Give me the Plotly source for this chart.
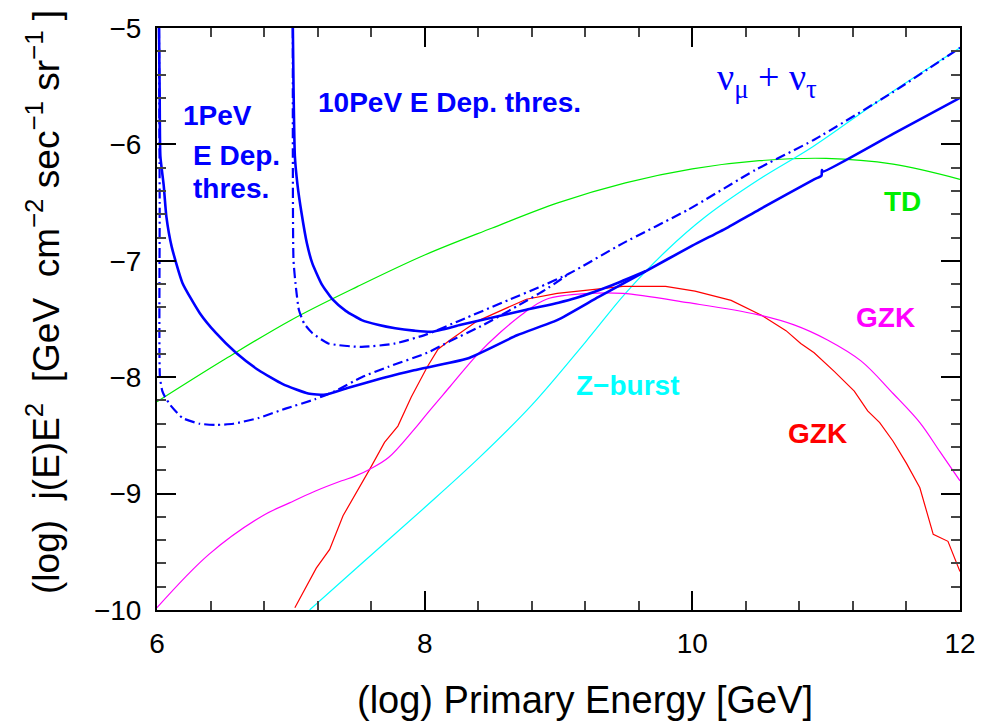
import plotly.graph_objects as go

# log10(E/GeV) and log10(j(E)E^2) sample points for each model / sensitivity curve

# TD (topological defects)
td_x = [6.0, 6.5, 7.0, 7.5, 8.0, 8.5, 9.0, 9.5, 10.0, 10.5, 11.0, 11.5, 12.0]
td_y = [-8.21, -7.85, -7.51, -7.22, -6.95, -6.72, -6.50, -6.33, -6.21, -6.14, -6.12, -6.17, -6.30]

# Z-burst
zb_x = [7.14, 7.5, 8.0, 8.4, 8.8, 9.2, 9.5, 9.8, 10.1, 10.5, 10.9, 11.4, 12.0]
zb_y = [-10.0, -9.63, -9.12, -8.70, -8.24, -7.70, -7.28, -6.92, -6.62, -6.30, -6.02, -5.62, -5.17]

# GZK (red)
gzk1_x = [7.03, 7.19, 7.29, 7.39, 7.59, 7.70, 7.80, 7.90, 8.02, 8.10, 8.19, 8.39, 8.76,
          8.99, 9.48, 9.80, 10.02, 10.29, 10.52, 10.70, 10.81, 10.91, 11.06, 11.21, 11.31,
          11.40, 11.50, 11.60, 11.70, 11.80, 11.91, 12.0]
gzk1_y = [-9.98, -9.64, -9.48, -9.19, -8.79, -8.56, -8.42, -8.17, -7.91, -7.76, -7.68, -7.52,
          -7.33, -7.28, -7.22, -7.22, -7.26, -7.34, -7.47, -7.60, -7.71, -7.79, -7.95, -8.12,
          -8.29, -8.39, -8.55, -8.74, -8.95, -9.35, -9.41, -9.67]

# GZK (magenta)
gzk2_x = [6.0, 6.39, 6.79, 6.99, 7.18, 7.38, 7.48, 7.59, 7.73, 7.92, 8.02, 8.19, 8.39, 8.57,
          8.74, 8.91, 9.23, 9.48, 9.97, 10.48, 10.76, 11.01, 11.26, 11.50, 11.70, 11.85, 12.0]
gzk2_y = [-9.98, -9.52, -9.19, -9.08, -8.98, -8.89, -8.85, -8.79, -8.69, -8.45, -8.31, -8.08,
          -7.81, -7.61, -7.45, -7.33, -7.28, -7.28, -7.36, -7.46, -7.55, -7.68, -7.86, -8.14,
          -8.39, -8.64, -8.89]

# 1 PeV energy-deposit threshold, solid
pev1_sol_x = [6.015, 6.02, 6.025, 6.05, 6.07, 6.11, 6.19, 6.32, 6.44, 6.59, 6.76, 6.94, 7.13,
              7.26, 7.43, 7.68, 7.92, 8.32, 8.69, 8.99, 9.30, 9.65, 10.0, 10.27, 10.5, 10.91,
              10.965, 10.968, 10.975, 11.5, 12.0]
pev1_sol_y = [-5.0, -5.6, -6.1, -6.35, -6.62, -6.88, -7.19, -7.45, -7.62, -7.79, -7.94, -8.06,
              -8.14, -8.15, -8.09, -8.01, -7.94, -7.84, -7.64, -7.51, -7.31, -7.09, -6.87, -6.71,
              -6.56, -6.30, -6.27, -6.22, -6.235, -5.91, -5.60]

# 1 PeV energy-deposit threshold, dash-dot
pev1_dd_x = [6.015, 6.02, 6.022, 6.04, 6.06, 6.10, 6.19, 6.32, 6.44, 6.57, 6.76, 6.96, 7.18,
             7.33, 7.53, 7.73, 8.02, 8.19, 8.44, 8.69, 8.90, 9.08]
pev1_dd_y = [-5.0, -6.5, -8.0, -8.12, -8.17, -8.24, -8.35, -8.40, -8.41, -8.40, -8.35, -8.27,
             -8.19, -8.12, -8.00, -7.91, -7.79, -7.69, -7.55, -7.39, -7.25, -7.11]

# 10 PeV energy-deposit threshold, solid
pev10_sol_x = [7.015, 7.02, 7.03, 7.05, 7.08, 7.12, 7.16, 7.23, 7.31, 7.41, 7.53, 7.65, 7.78,
               7.92, 8.05, 8.27, 8.50, 8.76, 9.00, 9.13, 9.40, 9.65]
pev10_sol_y = [-5.0, -5.5, -6.1, -6.35, -6.59, -6.85, -7.02, -7.20, -7.33, -7.43, -7.51, -7.55,
               -7.58, -7.60, -7.61, -7.55, -7.49, -7.42, -7.36, -7.32, -7.21, -7.09]

# 10 PeV energy-deposit threshold, dash-dot
pev10_dd_x = [7.015, 7.015, 7.02, 7.04, 7.06, 7.10, 7.16, 7.28, 7.53, 7.78, 8.02, 8.27, 8.64,
              8.85, 9.08, 9.48, 9.97, 10.47, 10.91, 11.5, 12.0]
pev10_dd_y = [-5.0, -6.1, -7.0, -7.25, -7.42, -7.54, -7.62, -7.71, -7.74, -7.71, -7.63, -7.51,
              -7.33, -7.23, -7.11, -6.85, -6.56, -6.22, -5.96, -5.55, -5.17]

BLUE = "#0000FF"
FONT = "Liberation Sans"

# plot-area placement in pixels (used to place free text in pixel terms)
W, H = 988, 728
L, R, T, B = 157, 21, 28, 118
PW, PH = W - L - R, H - T - B

fig = go.Figure()


def add_line(x, y, color, width, dash="solid", shape="linear", smoothing=1.0):
    line = dict(color=color, width=width, dash=dash, shape=shape)
    if shape == "spline":
        line["smoothing"] = smoothing
    fig.add_trace(go.Scatter(x=x, y=y, mode="lines", line=line,
                             showlegend=False, hoverinfo="skip"))


add_line(td_x, td_y, "#00EE00", 1.2, shape="spline")
add_line(zb_x, zb_y, "#00FFFF", 1.2, shape="spline")
add_line(gzk1_x, gzk1_y, "#FF0000", 1.2)
add_line(gzk2_x, gzk2_y, "#FF00FF", 1.2, shape="spline", smoothing=1.0)
add_line(pev1_dd_x, pev1_dd_y, BLUE, 2.2, "10px,4px,2px,4px", shape="spline", smoothing=0.5)
add_line(pev10_dd_x, pev10_dd_y, BLUE, 2.2, "10px,4px,2px,4px", shape="spline", smoothing=0.5)
add_line(pev1_sol_x, pev1_sol_y, BLUE, 2.6, shape="spline", smoothing=0.5)
add_line(pev10_sol_x, pev10_sol_y, BLUE, 2.6, shape="spline", smoothing=0.5)

axis_common = dict(
    showgrid=False, zeroline=False,
    showline=True, linecolor="black", linewidth=2, mirror="allticks",
    ticks="inside", ticklen=19, tickwidth=1.5, tickcolor="black",
    tickfont=dict(family=FONT, size=28, color="black"),
)

fig.update_xaxes(range=[6, 12], dtick=2, tick0=0,
                 minor=dict(dtick=0.4, ticklen=9, tickwidth=1.5, tickcolor="#444", ticks="inside"),
                 ticklabelstandoff=7, **axis_common)
fig.update_yaxes(range=[-10, -5], dtick=1, tick0=0,
                 minor=dict(dtick=0.2, ticklen=9, tickwidth=1.5, tickcolor="#444", ticks="inside"),
                 ticklabelstandoff=8, **axis_common)


def text_at(text, px, py, color, size, family=FONT, xanchor="left", angle=0):
    fig.add_annotation(text=text, x=(px - L) / PW, y=(H - B - py) / PH,
                       xref="paper", yref="paper", xanchor=xanchor, yanchor="middle",
                       textangle=angle, showarrow=False,
                       font=dict(family=family, size=size, color=color))


labels = [
    ("<b>1PeV</b>", 181, 115, BLUE),
    ("<b>E Dep.</b>", 191, 155, BLUE),
    ("<b>thres.</b>", 191, 188, BLUE),
    ("<b>10PeV E Dep. thres.</b>", 317, 103, BLUE),
    ("<b>TD</b>", 888, 201, "#00EE00"),
    ("<b>GZK</b>", 860, 317, "#FF00FF"),
    ("<b>GZK</b>", 791, 433, "#FF0000"),
    ("<b>Z\u2212burst</b>", 578, 385, "#00FFFF"),
]
for text, px, py, col in labels:
    text_at(text, px, py, col, 28)

# neutrino flavour label
text_at("\u03bd<sub>\u03bc</sub> + \u03bd<sub>\u03c4</sub>", 772, 80, BLUE, 38,
        family="Liberation Serif", xanchor="center")

# axis titles
text_at("(log) Primary Energy [GeV]", 589, 700, "black", 38, xanchor="center")
text_at("(log)  j(E)E<sup>2</sup>  [GeV  cm<sup>\u22122</sup> sec<sup>\u22121</sup> sr<sup>\u22121</sup> ]",
        42, 302, "black", 37, xanchor="center", angle=-90)

fig.update_layout(
    width=W, height=H,
    margin=dict(l=L, r=R, t=T, b=B),
    paper_bgcolor="white", plot_bgcolor="white",
    showlegend=False,
)

fig.write_html("out.html")
